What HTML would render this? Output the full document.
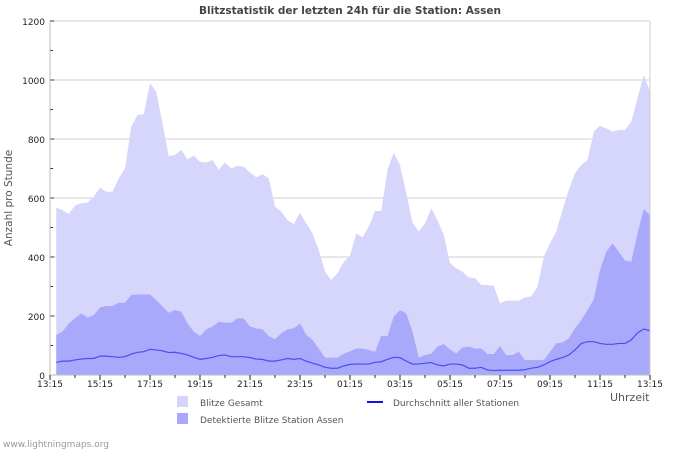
<!DOCTYPE html>
<html><head><meta charset="utf-8"><style>
body{margin:0;background:#fff;}
svg{display:block;font-family:"DejaVu Sans","Liberation Sans",sans-serif;}
</style></head><body>
<svg id="chart" width="700" height="450" viewBox="0 0 700 450">
<text x="350" y="14" text-anchor="middle" font-size="10.5" font-weight="bold" fill="#444">Blitzstatistik der letzten 24h für die Station: Assen</text>
<text transform="translate(12,198) rotate(-90)" text-anchor="middle" font-size="10.5" fill="#555">Anzahl pro Stunde</text>
<text x="610" y="401" font-size="11" fill="#555">Uhrzeit</text>
<g id="grid"></g>
<g id="areas"></g>
<g id="axes"></g>
<g>
<rect x="177" y="396" width="11" height="11" fill="#d6d6fc"/>
<text x="200" y="406" font-size="9" fill="#555">Blitze Gesamt</text>
<rect x="177" y="413" width="11" height="11" fill="#a9a9fc"/>
<text x="200" y="423" font-size="9" fill="#555">Detektierte Blitze Station Assen</text>
<line x1="367" y1="402" x2="383" y2="402" stroke="#1111ee" stroke-width="2"/>
<text x="393" y="406" font-size="9" fill="#555">Durchschnitt aller Stationen</text>
</g>
<text x="3" y="447" font-size="9" fill="#999">www.lightningmaps.org</text>
</svg>
<script>
const total=[567,559,546,574,582,584,605,635,621,621,667,700,842,881,884,989,960,853,742,746,763,731,744,723,720,729,695,721,700,709,706,687,670,681,667,571,554,525,512,550,514,480,424,350,322,345,384,405,480,466,503,556,556,695,754,712,616,516,486,514,565,525,475,379,362,350,331,328,305,305,302,243,252,252,252,263,266,299,401,446,486,559,627,684,712,729,825,845,836,825,831,831,859,938,1017,960];
const detected=[136,147,175,192,209,195,203,229,234,234,245,245,271,273,273,273,254,232,211,220,215,175,147,132,155,164,181,177,177,192,192,164,158,155,132,121,141,155,158,175,136,119,90,59,59,59,73,80,90,90,85,79,132,132,198,220,209,147,59,68,73,96,105,87,73,94,96,90,90,71,71,98,68,68,79,51,51,51,51,79,107,110,124,158,186,220,256,356,418,446,418,388,384,480,562,542];
const average=[43,47,47,51,54,56,56,64,64,62,60,62,71,77,79,87,85,82,76,77,73,68,60,53,56,60,66,68,62,62,62,59,54,53,47,47,51,56,53,56,47,40,34,26,23,23,31,36,37,37,37,43,45,53,60,59,47,37,37,40,42,34,31,37,37,34,23,23,26,17,15,16,16,16,16,18,23,26,34,45,53,59,68,85,107,113,113,107,104,104,107,107,119,143,156,150];
const yTicks=[0,200,400,600,800,1000,1200];
const xLabels=["13:15","15:15","17:15","19:15","21:15","23:15","01:15","03:15","05:15","07:15","09:15","11:15","13:15"];
const NS="http://www.w3.org/2000/svg";
const x0=50,x1=650,yb=375,yt=21,ymax=1200;
function xs(i){return x0+(i+1)*(x1-x0)/96;}
function ys(v){return yb-v*(yb-yt)/ymax;}
function mk(tag,attrs,parent){const e=document.createElementNS(NS,tag);for(const k in attrs)e.setAttribute(k,attrs[k]);parent.appendChild(e);return e;}
const grid=document.getElementById('grid'),areas=document.getElementById('areas'),axes=document.getElementById('axes');
yTicks.forEach(v=>{
  if(v>0){const g=mk('line',{x1:x0,x2:x1,y1:ys(v),y2:ys(v),stroke:'#cfcfcf','stroke-width':1},grid);
  
  }
  const t=mk('text',{x:x0-5,y:ys(v)+4,'text-anchor':'end','font-size':9,fill:'#222'},axes);
  t.textContent=v;
  
  
  mk('line',{x1:x0,x2:x0+4,y1:ys(v),y2:ys(v),stroke:'#333'},axes);
  if(v<ymax)mk('line',{x1:x0,x2:x0+3,y1:ys(v+100),y2:ys(v+100),stroke:'#333'},axes);
});
function area(data,fill,name){
  let d='M'+xs(0)+','+yb;
  data.forEach((v,i)=>{d+=' L'+xs(i)+','+ys(v);});
  d+=' L'+xs(data.length-1)+','+yb+' Z';
  const p=mk('path',{d:d,fill:fill},areas);
  
  
}
area(total,'#d6d6fc','area-total');
area(detected,'#a9a9fc','area-detected');
let ld='';average.forEach((v,i)=>{ld+=(i?' L':'M')+xs(i)+','+ys(v);});
const ln=mk('path',{d:ld,fill:'none',stroke:'#4c4cf0','stroke-width':1.2},areas);


mk('line',{x1:x0,x2:x0,y1:yt,y2:yb,stroke:'#bbb'},axes);
mk('line',{x1:x1,x2:x1,y1:yt,y2:yb,stroke:'#ccc'},axes);
mk('line',{x1:x0,x2:x1,y1:yb,y2:yb,stroke:'#bbb'},axes);
for(let h=0;h<=24;h++){const x=x0+h*25;mk('line',{x1:x,x2:x,y1:yb,y2:yb+(h%2?3:5),stroke:'#222'},axes);}
xLabels.forEach((l,i)=>{const t=mk('text',{x:x0+i*50,y:387,'text-anchor':'middle','font-size':9,fill:'#222'},axes);
  t.textContent=l;
  
  });
</script>
</body></html>
